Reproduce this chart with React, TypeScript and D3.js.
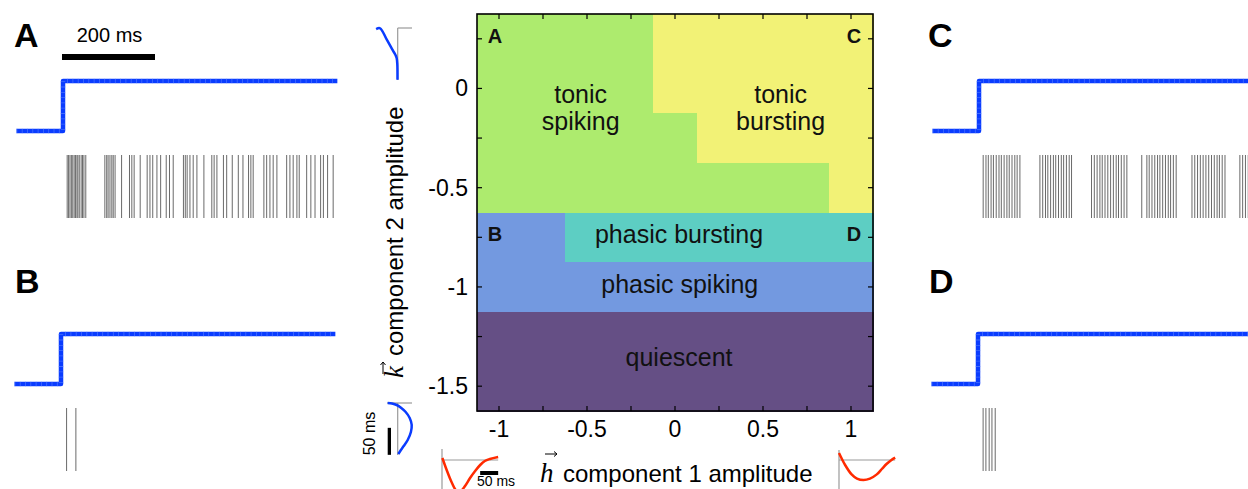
import React from "react";
import * as d3 from "d3";

const W = 1248;
const H = 489;

// Regime map over the two filter-component amplitudes
const hLevels = [-1, -0.75, -0.5, -0.25, 0, 0.25, 0.5, 0.75, 1];
const kLevels = [0.25, 0, -0.25, -0.5, -0.75, -1, -1.25, -1.5];
// s: tonic spiking, b: tonic bursting, q: phasic bursting, p: phasic spiking, 0: quiescent
const regimeRows = [
  "ssssbbbbb",
  "ssssbbbbb",
  "sssssbbbb",
  "ssssssssb",
  "ppqqqqqqq",
  "ppppppppp",
  "000000000",
  "000000000",
];
const regimeColors: Record<string, string> = {
  s: "#adeb6e",
  b: "#f2f276",
  q: "#5dcec3",
  p: "#7399e0",
  "0": "#654f85",
};
const regimeLabels = [
  { lines: ["tonic", "spiking"], h: -0.536, k: -0.096 },
  { lines: ["tonic", "bursting"], h: 0.6, k: -0.096 },
  { lines: ["phasic bursting"], h: 0.023, k: -0.733 },
  { lines: ["phasic spiking"], h: 0.027, k: -0.984 },
  { lines: ["quiescent"], h: 0.023, k: -1.352 },
];
const examplePoints = [
  { id: "A", h: -1, k: 0.25 },
  { id: "C", h: 1, k: 0.25 },
  { id: "B", h: -1, k: -0.75 },
  { id: "D", h: 1, k: -0.75 },
];

const hTicks = [-1, -0.75, -0.5, -0.25, 0, 0.25, 0.5, 0.75, 1];
const hTickLabels = [-1, -0.5, 0, 0.5, 1];
const kTicks = [0.25, 0, -0.25, -0.5, -0.75, -1, -1.25, -1.5];
const kTickLabels = [0, -0.5, -1, -1.5];

// Temporal filter shapes: [time (ms), amplitude]
const hFilterLeft: [number, number][] = [
  [1, 0.1], [13, -0.5], [24, -1.0], [36, -1.45], [44, -1.65], [53, -1.55],
  [64, -1.3], [78, -0.9], [92, -0.55], [106, -0.25], [119, -0.05], [133, 0.05], [156, 0.15],
];
const hFilterRight: [number, number][] = [
  [0, 0.35], [17, -0.25], [35, -0.72], [50, -0.93], [68, -1.0], [86, -0.93],
  [105, -0.72], [119, -0.45], [132, -0.2], [144, -0.02], [156, 0.12],
];
const kFilterUpper: [number, number][] = [
  [2, -1.08], [0.5, -0.88], [19, -0.58], [41, -0.25], [50, -0.11],
  [56, -0.05], [67, -0.02], [96, -0.01],
];
const kFilterLower: [number, number][] = [
  [0, -0.5], [1, -0.285], [3.7, -0.05], [9.3, 0.18], [16.7, 0.4], [27.8, 0.6],
  [40.7, 0.7], [53.7, 0.66], [68.5, 0.5], [79.6, 0.3], [87, 0.16], [94.4, 0.03],
];

// Step stimulus (ms, normalized level)
const stimTimes = [-100, 0, 0, 590];
const stimLevels = [0, 0, 1, 1];

// Spike times (ms after stimulus onset) for the four example parameter points
const spikesA = [
  9, 12, 15, 18, 21, 24, 27, 30, 32, 35, 39, 42, 45, 49, 90, 94, 97, 101, 105, 108, 112,
  126, 143, 148, 153, 166, 181, 187, 193, 202, 210, 222, 229, 237, 259, 263, 267, 273,
  280, 288, 303, 320, 325, 331, 345, 352, 364, 377, 387, 399, 404, 409, 432, 438, 445,
  452, 460, 481, 488, 495, 503, 508, 524, 533, 542, 554, 560, 569, 581,
];
const spikesB = [12, 32];
const spikesC = [
  9, 15, 20, 26, 31, 37, 43, 48, 54, 60, 65, 71, 77, 82, 88,
  131, 137, 143, 148, 154, 160, 165, 171, 177, 182, 188, 194, 199,
  242, 248, 254, 260, 265, 271, 277, 283, 289, 295, 300, 306, 312, 318,
  350, 361, 366, 372, 378, 384, 389, 395, 401, 407, 412, 418, 424,
  458, 464, 470, 476, 482, 488, 494, 500, 506, 512, 517, 523, 529,
  561, 567, 573, 579,
];
const spikesD = [11, 17, 24, 30, 37];

const SANS = "'Liberation Sans', Arial, Helvetica, sans-serif";
const SERIF = "'Liberation Serif', 'DejaVu Serif', serif";
const BLUE = "#0a3cff";
const RED = "#ff2a00";

const panels = [
  { id: "A", spikes: spikesA, origin: 63, stimTop: 81, rasterTop: 155, lx: 14, ly: 47 },
  { id: "B", spikes: spikesB, origin: 61, stimTop: 334, rasterTop: 408, lx: 15, ly: 293 },
  { id: "C", spikes: spikesC, origin: 979, stimTop: 81, rasterTop: 155, lx: 928, ly: 47 },
  { id: "D", spikes: spikesD, origin: 978, stimTop: 334, rasterTop: 408, lx: 929, ly: 293 },
];

function TracePanel({ p }: { p: (typeof panels)[number] }) {
  const t = d3.scaleLinear().domain([0, 200]).range([p.origin, p.origin + 93]);
  const lv = d3.scaleLinear().domain([0, 1]).range([p.stimTop + 50, p.stimTop]);
  const pts = stimTimes.map((s, i) => [s, stimLevels[i]] as [number, number]);
  const line = d3.line<[number, number]>().x((d) => t(d[0])).y((d) => lv(d[1]));
  const d = line(pts) || "";
  return (
    <g>
      <text x={p.lx} y={p.ly} fontFamily={SANS} fontWeight="bold" fontSize={34} fill="#000">
        {p.id}
      </text>
      <path d={d} fill="none" stroke={BLUE} strokeWidth={4.5} strokeLinejoin="round" />
      <path d={d} fill="none" stroke="#5a80ff" strokeWidth={4.5} strokeDasharray="0.8 4.5" opacity={0.7} />
      {p.spikes.map((s, i) => (
        <line
          key={i}
          x1={t(s)}
          x2={t(s)}
          y1={p.rasterTop}
          y2={p.rasterTop + 63}
          stroke="#6a6a6a"
          strokeWidth={1}
        />
      ))}
      {p.id === "A" && (
        <g>
          <text x={(t(0) + t(200)) / 2} y={42} textAnchor="middle" fontFamily={SANS} fontSize={20}>
            200 ms
          </text>
          <rect x={t(0) - 1} y={54} width={t(200) - t(0)} height={6} fill="#000" />
        </g>
      )}
    </g>
  );
}

function Arrow({ x1, x2, y }: { x1: number; x2: number; y: number }) {
  return (
    <g stroke="#000" strokeWidth={1} fill="none">
      <line x1={x1} x2={x2} y1={y} y2={y} />
      <path d={`M${x2 - 3},${y - 2.5} L${x2},${y} L${x2 - 3},${y + 2.5}`} />
    </g>
  );
}

export default function App() {
  const x = d3.scaleLinear().domain([-1.125, 1.125]).range([477, 873]);
  const y = d3.scaleLinear().domain([-1.625, 0.375]).range([411, 14]);
  const half = 0.125;
  const [x0, x1] = x.range();
  const [yb, yt] = y.range();

  // inset scales
  const hT = d3.scaleLinear().domain([0, 50]).range([0, 18]);
  const kT = d3.scaleLinear().domain([0, 50]).range([0, 27]);
  const amp = d3.scaleLinear().domain([0, 1]).range([0, 20]);

  const hLine = (ox: number, oy: number) =>
    d3
      .line<[number, number]>()
      .x((d) => ox + hT(d[0]))
      .y((d) => oy - amp(d[1]))
      .curve(d3.curveCatmullRom.alpha(0.5));
  const kLine = (ox: number, oy: number) =>
    d3
      .line<[number, number]>()
      .x((d) => ox + amp(d[1]))
      .y((d) => oy + kT(d[0]))
      .curve(d3.curveCatmullRom.alpha(0.5));

  const gray = "#9a9a9a";

  return (
    <svg
      width={W}
      height={H}
      viewBox={`0 0 ${W} ${H}`}
      style={{ position: "absolute", left: 0, top: 0, display: "block", background: "#fff" }}
    >
      <rect x={0} y={0} width={W} height={H} fill="#fff" />

      {/* regime cells */}
      <g shapeRendering="crispEdges">
        {regimeRows.map((row, i) =>
          row.split("").map((c, j) => {
            const h = hLevels[j];
            const k = kLevels[i];
            return (
              <rect
                key={`${i}-${j}`}
                x={x(h - half)}
                y={y(k + half)}
                width={x(h + half) - x(h - half) + 0.6}
                height={y(k - half) - y(k + half) + 0.6}
                fill={regimeColors[c]}
              />
            );
          })
        )}
      </g>

      {/* regime labels */}
      {regimeLabels.map((l, i) => {
        const cy = y(l.k);
        const n = l.lines.length;
        return (
          <text key={i} textAnchor="middle" fontFamily={SANS} fontSize={25} fill="#111">
            {l.lines.map((s, j) => (
              <tspan key={j} x={x(l.h)} y={cy + (j - (n - 1) / 2) * 27 + 9}>
                {s}
              </tspan>
            ))}
          </text>
        );
      })}

      {/* example point letters */}
      {examplePoints.map((e) => (
        <text
          key={e.id}
          x={x(e.h) + (e.h < 0 ? -4 : 3)}
          y={y(e.k) + 4}
          textAnchor="middle"
          fontFamily={SANS}
          fontWeight="bold"
          fontSize={20}
          fill="#111"
        >
          {e.id}
        </text>
      ))}

      {/* frame and inward ticks */}
      <g stroke="#000" strokeWidth={1.2}>
        {hTicks.map((v) => (
          <g key={`h${v}`}>
            <line x1={x(v)} x2={x(v)} y1={yb} y2={yb - 5} />
            <line x1={x(v)} x2={x(v)} y1={yt} y2={yt + 5} />
          </g>
        ))}
        {kTicks.map((v) => (
          <g key={`k${v}`}>
            <line x1={x0} x2={x0 + 5} y1={y(v)} y2={y(v)} />
            <line x1={x1} x2={x1 - 5} y1={y(v)} y2={y(v)} />
          </g>
        ))}
      </g>
      <rect x={x0} y={yt} width={x1 - x0} height={yb - yt} fill="none" stroke="#000" strokeWidth={1.6} />

      {hTickLabels.map((v) => (
        <text key={`hl${v}`} x={x(v)} y={437} textAnchor="middle" fontFamily={SANS} fontSize={23}>
          {String(v)}
        </text>
      ))}
      {kTickLabels.map((v) => (
        <text key={`kl${v}`} x={468} y={y(v) + 8} textAnchor="end" fontFamily={SANS} fontSize={23}>
          {String(v)}
        </text>
      ))}

      {/* axis titles */}
      <text x={540} y={482} fontFamily={SERIF} fontStyle="italic" fontSize={27}>
        h
      </text>
      <Arrow x1={545} x2={557} y={454} />
      <text x={563} y={482} fontFamily={SANS} fontSize={24}>
        component 1 amplitude
      </text>

      <g transform="translate(403,378) rotate(-90)">
        <text x={0} y={0} fontFamily={SERIF} fontStyle="italic" fontSize={27}>
          k
        </text>
        <Arrow x1={4} x2={16} y={-20} />
        <text x={22} y={0} fontFamily={SANS} fontSize={24}>
          component 2 amplitude
        </text>
      </g>

      {/* k-filter insets */}
      <g fill="none">
        <line x1={397.7} x2={412} y1={28} y2={28} stroke={gray} strokeWidth={1.2} />
        <line x1={397.7} x2={397.7} y1={28} y2={80} stroke={gray} strokeWidth={1.2} />
        <path d={kLine(397.7, 28)(kFilterUpper) || ""} stroke={BLUE} strokeWidth={2.5} />

        <line x1={387} x2={412} y1={403} y2={403} stroke={gray} strokeWidth={1.2} />
        <line x1={397.7} x2={397.7} y1={403} y2={455} stroke={gray} strokeWidth={1.2} />
        <path d={kLine(397.7, 403)(kFilterLower) || ""} stroke={BLUE} strokeWidth={2.5} />
      </g>
      <rect x={387.7} y={403 + kT(46)} width={3.3} height={kT(50)} fill="#000" />
      <text
        transform="translate(375,433.5) rotate(-90)"
        textAnchor="middle"
        fontFamily={SANS}
        fontSize={16}
      >
        50 ms
      </text>

      {/* h-filter insets */}
      <g fill="none">
        <line x1={442} x2={442} y1={449} y2={H} stroke={gray} strokeWidth={1.2} />
        <line x1={442} x2={442 + hT(156)} y1={460} y2={460} stroke={gray} strokeWidth={1.2} />
        <path d={hLine(442, 460)(hFilterLeft) || ""} stroke={RED} strokeWidth={2.5} />

        <line x1={839} x2={839} y1={450} y2={H} stroke={gray} strokeWidth={1.2} />
        <line x1={839} x2={839 + hT(156)} y1={460} y2={460} stroke={gray} strokeWidth={1.2} />
        <path d={hLine(839, 460)(hFilterRight) || ""} stroke={RED} strokeWidth={2.5} />
      </g>
      <rect x={442 + hT(106)} y={471} width={hT(50)} height={4} fill="#000" />
      <text x={496} y={485.5} textAnchor="middle" fontFamily={SANS} fontSize={14}>
        50 ms
      </text>

      {/* example responses */}
      {panels.map((p) => (
        <TracePanel key={p.id} p={p} />
      ))}
    </svg>
  );
}
